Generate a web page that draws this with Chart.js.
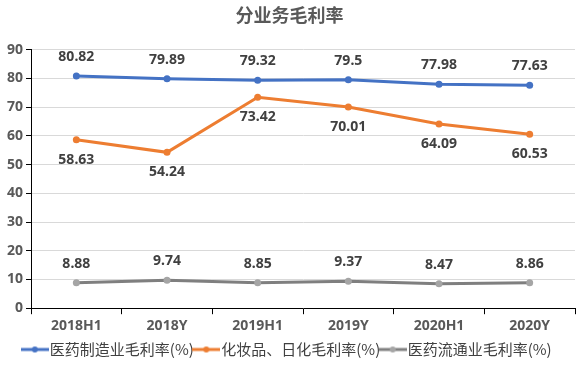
<!DOCTYPE html>
<html><head><meta charset="utf-8">
<script src="https://cdn.jsdelivr.net/npm/chart.js@4/dist/chart.umd.min.js"></script>
<style>html,body{margin:0;padding:0;background:#fff;}#wrap{width:582px;height:373px;}</style>
</head><body><div id="wrap"><canvas id="c" width="582" height="373"></canvas></div>
<script>
const categories = ['2018H1','2018Y','2019H1','2019Y','2020H1','2020Y'];
const pharmaMfg = [80.82, 79.89, 79.32, 79.5, 77.98, 77.63];
const cosmetics = [58.63, 54.24, 73.42, 70.01, 64.09, 60.53];
const pharmaDist = [8.88, 9.74, 8.85, 9.37, 8.47, 8.86];
const seriesNames = ['医药制造业毛利率(%)', '化妆品、日化毛利率(%)', '医药流通业毛利率(%)'];
const yTicks = [0,10,20,30,40,50,60,70,80,90];

const FONT = "'Microsoft YaHei','Noto Sans CJK SC','DejaVu Sans',sans-serif";
const TICKFONT = "'Noto Sans','DejaVu Sans',sans-serif";

function legendIcon(lineColor, dotColor){
  const c = document.createElement('canvas');
  c.width = 28; c.height = 10;
  const x = c.getContext('2d');
  x.strokeStyle = lineColor; x.lineWidth = 3;
  x.beginPath(); x.moveTo(0,5); x.lineTo(28,5); x.stroke();
  x.fillStyle = dotColor; x.beginPath(); x.arc(14,5,3,0,Math.PI*2); x.fill();
  return c;
}

const labelPos = [ 'above', 'below', 'above' ];

const dataLabels = {
  id: 'dataLabels',
  afterDatasetsDraw(chart){
    const ctx = chart.ctx;
    ctx.save();
    ctx.font = "bold 14px " + TICKFONT;
    ctx.fillStyle = '#404040';
    ctx.textAlign = 'center';
    ctx.textBaseline = 'middle';
    chart.data.datasets.forEach((ds, i) => {
      const meta = chart.getDatasetMeta(i);
      meta.data.forEach((pt, j) => {
        const off = labelPos[i] === 'above' ? -19 : 20;
        ctx.fillText(String(ds.data[j]), pt.x, pt.y + off);
      });
    });
    ctx.restore();
  }
};

const common = {borderWidth:3, pointRadius:3.5, pointBorderWidth:0, pointHoverRadius:3.5};

new Chart(document.getElementById('c'), {
  type: 'line',
  data: {
    labels: categories,
    datasets: [
      Object.assign({label: seriesNames[0], data: pharmaMfg, borderColor:'#4472C4', backgroundColor:'#4472C4', pointBackgroundColor:'#4472C4'}, common),
      Object.assign({label: seriesNames[1], data: cosmetics, borderColor:'#ED7D31', backgroundColor:'#ED7D31', pointBackgroundColor:'#ED7D31'}, common),
      Object.assign({label: seriesNames[2], data: pharmaDist, borderColor:'#7F7F7F', backgroundColor:'#A5A5A5', pointBackgroundColor:'#A5A5A5'}, common)
    ]
  },
  options: {
    responsive: false,
    animation: false,
    layout: {padding: {left: 4, right: 7, top: 0, bottom: 6}},
    plugins: {
      title: {display: true, text: '分业务毛利率', color:'#595959', font:{family: FONT, size:18, weight:'bold'}, padding:{top:4, bottom:24}},
      legend: {
        position: 'bottom',
        labels: {
          color:'#404040',
          font:{family: FONT, size:15},
          usePointStyle: true,
          boxWidth: 28, boxHeight: 10,
          padding: 5,
          generateLabels(chart){
            const cols = [['#4472C4','#4472C4'],['#ED7D31','#ED7D31'],['#7F7F7F','#A5A5A5']];
            return chart.data.datasets.map((ds,i)=>({
              text: ds.label, pointStyle: legendIcon(cols[i][0], cols[i][1]),
              fillStyle: cols[i][0], strokeStyle: cols[i][0], lineWidth:0, datasetIndex:i, hidden:false, fontColor:'#404040'
            }));
          }
        }
      },
      tooltip: {enabled:false}
    },
    scales: {
      x: {
        offset: true,
        grid: {offset: true, drawOnChartArea: false, drawTicks: true, tickLength: 6, color:'#000', tickColor:'#000'},
        border: {color:'#000', width:1},
        ticks: {color:'#595959', font:{family: TICKFONT, size:14, weight:'bold'}, padding: 3}
      },
      y: {
        min: 0, max: 90,
        afterBuildTicks(axis){ axis.ticks = yTicks.map(v=>({value:v})); },
        grid: {color:'#D9D9D9', tickColor:'#000', tickLength: 5},
        border: {color:'#000', width:1},
        ticks: {color:'#595959', font:{family: TICKFONT, size:14, weight:'bold'}, padding: 3}
      }
    }
  },
  plugins: [dataLabels]
});
</script></body></html>
